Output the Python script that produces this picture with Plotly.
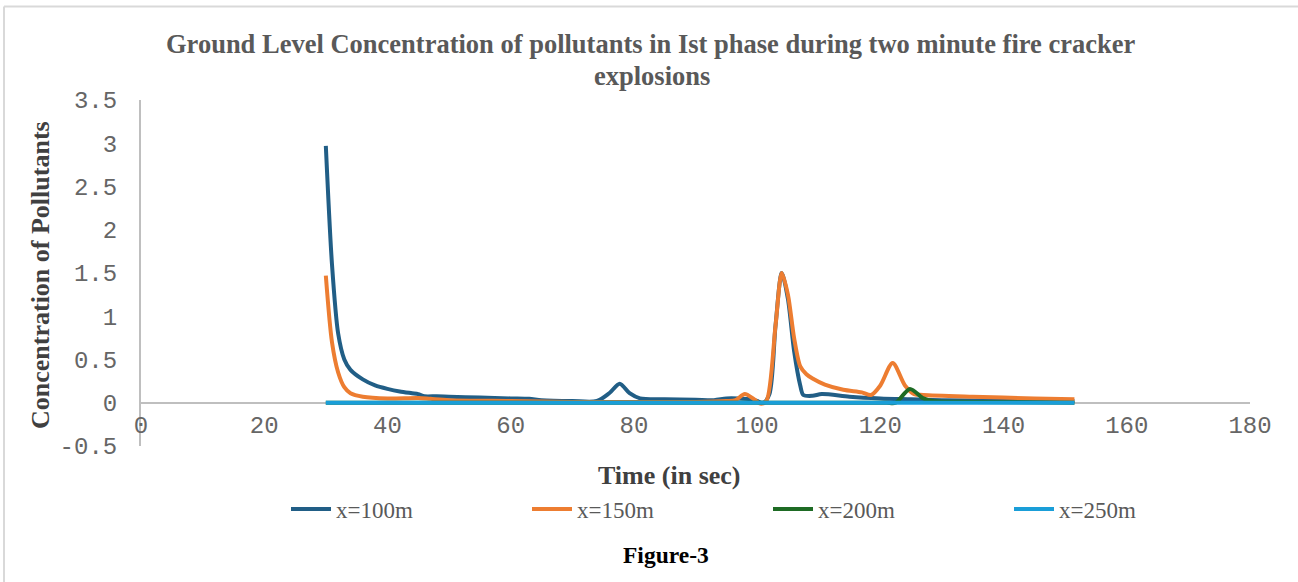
import plotly.graph_objects as go

# ---- data ----
t_100 = [30, 31, 32, 33, 34, 36, 38, 40, 42, 44, 45, 46, 48, 50, 55, 60, 63, 65, 70, 74, 76, 77.7,
         79.3, 81, 85, 90, 93, 95, 97, 99, 100, 101, 102, 103, 104, 105, 106, 107, 107.5, 109, 110.5, 115,
         120, 125, 130, 140, 151.5]
c_100 = [2.97, 1.6, 0.8, 0.5, 0.38, 0.27, 0.2, 0.16, 0.13, 0.11, 0.1, 0.075, 0.075, 0.07, 0.06, 0.05, 0.045,
         0.03, 0.02, 0.02, 0.11, 0.22, 0.11, 0.05, 0.04, 0.035, 0.03, 0.05, 0.05, 0.04, 0.02, 0.0,
         0.1, 0.9, 1.5, 1.2, 0.6, 0.2, 0.09, 0.08, 0.1, 0.07, 0.05, 0.04, 0.03, 0.025, 0.02]

t_150 = [30, 31, 32, 33, 34, 36, 40, 45, 47, 50, 60, 70, 80, 90, 95, 96.5, 98, 99.5, 100.5, 101.5, 103, 104,
         105, 106, 107, 108, 109, 111, 114, 117, 118.5, 120, 122, 124, 125.5, 127, 135, 145, 151.5]
c_150 = [1.47, 0.7, 0.35, 0.18, 0.11, 0.07, 0.05, 0.055, 0.045, 0.03, 0.02, 0.01, 0.01, 0.01, 0.02, 0.03,
         0.1, 0.04, -0.01, 0.02, 0.9, 1.5, 1.25, 0.75, 0.42, 0.33, 0.28, 0.21, 0.15, 0.12, 0.09, 0.2, 0.46,
         0.2, 0.1, 0.09, 0.07, 0.05, 0.04]

t_200 = [30, 60, 90, 115, 121, 122.5, 124.8, 127, 128.5, 135, 151.5]
c_200 = [0, 0, 0, 0, 0, 0.0, 0.16, 0.05, 0.02, 0.01, 0.0]

t_250 = [30, 60, 90, 120, 151.5]
c_250 = [0, 0, 0, 0, 0]

series_names = ["x=100m", "x=150m", "x=200m", "x=250m"]
series_colors = ["#215e86", "#ED7D31", "#1e6b24", "#1a9ed8"]

y_ticks = [-0.5, 0, 0.5, 1, 1.5, 2, 2.5, 3, 3.5]
y_ticktext = ["-0.5", "0", "0.5", "1", "1.5", "2", "2.5", "3", "3.5"]
x_ticks = [0, 20, 40, 60, 80, 100, 120, 140, 160, 180]

# ---- figure ----
fig = go.Figure()
for t, c, name, col in zip([t_100, t_150, t_200, t_250], [c_100, c_150, c_200, c_250],
                           series_names, series_colors):
    fig.add_trace(go.Scatter(x=t, y=c, name=name, mode="lines",
                             line=dict(color=col, width=4, shape="spline", smoothing=0.8)))

L, R, T, B = 141, 1250, 100, 446
W, H = 1298, 582
pw, ph = R - L, B - T


def px_x(p):
    return (p - L) / pw


def px_y(p):
    return (B - p) / ph


gray = "#595959"
tick_gray = "#666666"
fig.update_layout(
    width=W, height=H,
    margin=dict(l=L, r=W - R, t=T, b=H - B, pad=0),
    paper_bgcolor="white", plot_bgcolor="white",
    showlegend=True,
    legend=dict(orientation="h", x=px_x(286), xanchor="left", y=px_y(509), yanchor="middle",
                font=dict(family="Liberation Serif", size=23, color=gray),
                entrywidth=186, entrywidthmode="pixels", itemwidth=40, bgcolor="rgba(0,0,0,0)"),
    xaxis=dict(range=[0, 180], tickvals=x_ticks, showgrid=False, zeroline=False,
               showline=True, linecolor="#bfbfbf", linewidth=2, layer="below traces",
               anchor="free", position=0.125, ticks="", ticklabelstandoff=0,
               tickfont=dict(family="Liberation Mono", size=24, color=tick_gray)),
    yaxis=dict(range=[-0.5, 3.5], tickvals=y_ticks, ticktext=y_ticktext, showgrid=False,
               zeroline=False, showline=True, linecolor="#bfbfbf", linewidth=2, layer="below traces",
               ticks="", ticklabelstandoff=17,
               tickfont=dict(family="Liberation Mono", size=24, color=tick_gray)),
)

annotations = [
    dict(text="<b>Ground Level Concentration of pollutants in Ist phase during two minute fire cracker</b>",
         x=px_x(650), y=px_y(44), font=dict(family="Liberation Serif", size=26.5, color=gray)),
    dict(text="<b>explosions</b>", x=px_x(652), y=px_y(76),
         font=dict(family="Liberation Serif", size=26.5, color=gray)),
    dict(text="<b>Concentration of Pollutants</b>", x=px_x(40), y=px_y(275), textangle=-90,
         font=dict(family="Liberation Serif", size=26, color="#404040")),
    dict(text="<b>Time (in sec)</b>", x=px_x(669), y=px_y(476),
         font=dict(family="Liberation Serif", size=26, color="#404040")),
    dict(text="<b>Figure-3</b>", x=px_x(666), y=px_y(555),
         font=dict(family="Liberation Serif", size=23.5, color="black")),
]
for a in annotations:
    a.update(xref="paper", yref="paper", showarrow=False, xanchor="center", yanchor="middle")
    fig.add_annotation(**a)

# chart frame (top and left edges visible in the reference)
fig.add_shape(type="line", xref="paper", yref="paper", x0=px_x(4), x1=px_x(1298), y0=px_y(6.5), y1=px_y(6.5),
              line=dict(color="#d9d9d9", width=2))
fig.add_shape(type="line", xref="paper", yref="paper", x0=px_x(4), x1=px_x(4), y0=px_y(6.5), y1=px_y(582),
              line=dict(color="#d9d9d9", width=2))

fig.write_html("out.html")
